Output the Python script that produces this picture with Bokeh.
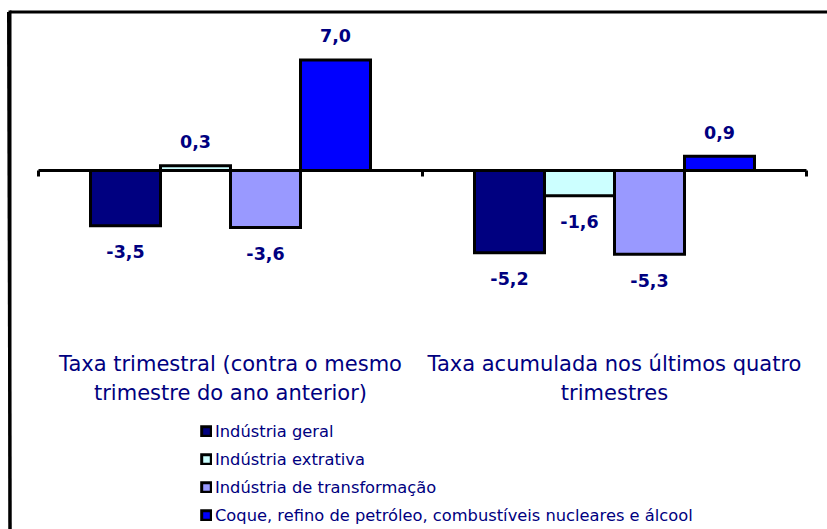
from bokeh.plotting import figure
from bokeh.models import Range1d, ColumnDataSource, Legend, LegendItem
from bokeh.core.properties import value
from bokeh.embed import file_html
from bokeh.resources import INLINE

# ---- data ----
categories = ["Taxa trimestral (contra o mesmo\ntrimestre do ano anterior)",
              "Taxa acumulada nos últimos quatro\ntrimestres"]
series_names = ["Indústria geral",
                "Indústria extrativa",
                "Indústria de transformação",
                "Coque, refino de petróleo, combustíveis nucleares e álcool"]
taxa_trimestral = [-3.5, 0.3, -3.6, 7.0]
taxa_acumulada = [-5.2, -1.6, -5.3, 0.9]
series_colors = ["#000080", "#CCFFFF", "#9999FF", "#0000FF"]

# ---- layout ----
W, H = 827, 529
XPX = 384.0          # px per category
X0 = 38.0            # px of category axis start
YPX = 15.8           # px per unit
Y0 = 170.0           # px of zero line from top
NAVY = "#000080"

x_lo, x_hi = -X0 / XPX, (W - X0) / XPX
y_lo, y_hi = -(H - Y0) / YPX, Y0 / YPX

p = figure(width=W, height=H, output_backend="svg", toolbar_location=None,
           x_range=Range1d(x_lo, x_hi), y_range=Range1d(y_lo, y_hi),
           x_axis_type=None, y_axis_type=None, min_border=0,
           background_fill_color="white", border_fill_color="white",
           outline_line_color=None)

ncat = len(categories)
centers = [i + 0.5 for i in range(ncat)]

# chart border (top and left parts visible)
bx = (-X0 + 9.5) / XPX
by = (Y0 - 11.5) / YPX
p.segment(x0=[bx, bx - 1.5 / XPX], y0=[by, by], x1=[x_hi, bx], y1=[by, y_lo],
          line_color="black", line_width=3)
p.segment(x0=[bx], y0=[by + 1.5 / YPX], x1=[bx], y1=[y_lo],
          line_color="black", line_width=3)

# axis line and tick marks
p.segment(x0=[0], y0=[0], x1=[ncat], y1=[0], line_color="black", line_width=3)
tick_x = list(range(ncat + 1))
p.segment(x0=tick_x, y0=[0] * len(tick_x), x1=tick_x, y1=[-6 / YPX] * len(tick_x),
          line_color="black", line_width=3)

# bars
nser = len(series_names)
bar_w = 70.0 / XPX
items = []
lab_x, lab_y, lab_t, lab_off = [], [], [], []
for j, name in enumerate(series_names):
    vals = [taxa_trimestral[j], taxa_acumulada[j]]
    xs = [c + (j - (nser - 1) / 2) * bar_w for c in centers]
    src = ColumnDataSource(dict(x=xs, top=vals))
    r = p.vbar(x="x", top="top", bottom=0, width=bar_w, source=src,
               fill_color=series_colors[j], line_color="black", line_width=3,
               line_join="miter")
    items.append(LegendItem(label=name, renderers=[r]))
    for xv, v in zip(xs, vals):
        lab_x.append(xv)
        lab_y.append(v)
        lab_t.append(f"{v:.1f}".replace(".", ","))
        lab_off.append(-24 if v >= 0 else 26)

p.text(x=lab_x, y=lab_y, text=lab_t, y_offset=lab_off,
       text_align="center", text_baseline="middle",
       text_font=value("DejaVu Sans"), text_font_style="bold",
       text_font_size="17.5px", text_color=NAVY)

# category labels (one text per line)
cx, cy, ct, coff = [], [], [], []
for c, cat in zip(centers, categories):
    for k, line in enumerate(cat.split("\n")):
        cx.append(c)
        cy.append(0)
        ct.append(line)
        coff.append(193 + 29 * k)
p.text(x=cx, y=cy, text=ct, y_offset=coff,
       text_align="center", text_baseline="middle",
       text_font=value("DejaVu Sans"), text_font_size="21px",
       text_color=NAVY)

legend = Legend(items=items, location=(200, 4), orientation="vertical",
                padding=0, margin=0, spacing=8, glyph_width=12, glyph_height=12,
                label_standoff=3, label_height=20,
                label_text_font="DejaVu Sans", label_text_font_size="16.3px",
                label_text_color=NAVY, border_line_color=None,
                background_fill_alpha=0)
p.add_layout(legend)

open("out.html", "w").write(file_html(p, INLINE))
